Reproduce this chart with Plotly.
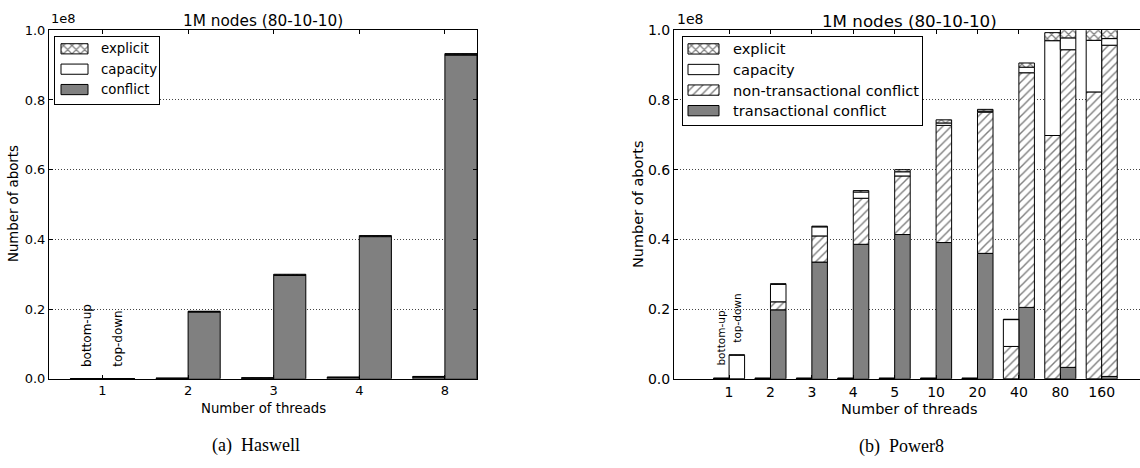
import plotly.graph_objects as go

SCALE = 1e8

# ---------------- Haswell (left) ----------------
hw_threads = ["1", "2", "3", "4", "8"]
# values in units of 1e8 aborts
hw_bu_conflict = [0.0006, 0.0012, 0.002, 0.0035, 0.0055]
hw_bu_capacity = [0.0002, 0.0004, 0.0005, 0.0008, 0.0008]
hw_bu_explicit = [0.0002, 0.0004, 0.0005, 0.0007, 0.0007]
hw_td_conflict = [0.0006, 0.192, 0.297, 0.408, 0.929]
hw_td_capacity = [0.0002, 0.001, 0.001, 0.001, 0.001]
hw_td_explicit = [0.0002, 0.001, 0.002, 0.002, 0.003]

# ---------------- Power8 (right) ----------------
p8_threads = ["1", "2", "3", "4", "5", "10", "20", "40", "80", "160"]
p8_bu_tx = [0.001, 0.001, 0.001, 0.001, 0.001, 0.001, 0.001, 0.0, 0.0, 0.0]
p8_bu_ntx = [0.0, 0.0, 0.0, 0.0, 0.0, 0.0, 0.0, 0.093, 0.698, 0.823]
p8_bu_cap = [0.0005, 0.0005, 0.0005, 0.0005, 0.0005, 0.0005, 0.0005, 0.077, 0.272, 0.148]
p8_bu_exp = [0.0005, 0.0005, 0.0005, 0.0005, 0.0005, 0.0005, 0.0005, 0.001, 0.023, 0.035]
p8_td_tx = [0.0, 0.198, 0.335, 0.386, 0.414, 0.391, 0.360, 0.205, 0.033, 0.007]
p8_td_ntx = [0.0, 0.023, 0.075, 0.132, 0.168, 0.336, 0.405, 0.673, 0.911, 0.950]
p8_td_cap = [0.068, 0.050, 0.026, 0.018, 0.012, 0.007, 0.003, 0.016, 0.034, 0.019]
p8_td_exp = [0.001, 0.002, 0.002, 0.004, 0.006, 0.009, 0.005, 0.012, 0.025, 0.030]

y_ticks = [0.0, 0.2, 0.4, 0.6, 0.8, 1.0]
y_tick_labels = ["0.0", "0.2", "0.4", "0.6", "0.8", "1.0"]

hw_legend = ["explicit", "capacity", "conflict"]
p8_legend = ["explicit", "capacity", "non-transactional conflict", "transactional conflict"]

BAR_W = 0.375
GRAY = "#808080"
FONT = "DejaVu Sans"
W, H = 1140, 468

STYLE = {
    "conflict": dict(color=GRAY, pattern=None),
    "transactional conflict": dict(color=GRAY, pattern=None),
    "capacity": dict(color="white", pattern=None),
    "non-transactional conflict": dict(color="white", pattern="/"),
    "explicit": dict(color="white", pattern="x"),
}


def marker_for(name):
    st = STYLE[name]
    m = dict(color=st["color"], line=dict(color="black", width=1))
    if st["pattern"]:
        m["pattern"] = dict(shape=st["pattern"], fgcolor="black",
                            bgcolor="white", size=6,
                            solidity=0.24 if st["pattern"] == "/" else 0.36)
    return m


fig = go.Figure()


def add_stack(layers_bu, layers_td, names, n, xa, ya):
    idx = list(range(n))
    base_bu = [0.0] * n
    base_td = [0.0] * n
    for name, vbu, vtd in zip(names, layers_bu, layers_td):
        for vals, base, off in ((vbu, base_bu, -BAR_W / 2), (vtd, base_td, BAR_W / 2)):
            fig.add_trace(go.Bar(
                x=[i + off for i in idx],
                y=[v * SCALE for v in vals],
                base=[b * SCALE for b in base],
                width=BAR_W,
                marker=marker_for(name),
                name=name,
                showlegend=False,
                xaxis=xa, yaxis=ya,
                hoverinfo="skip",
            ))
            for i in idx:
                base[i] += vals[i]
    return base_bu, base_td


hw_tot_bu, hw_tot_td = add_stack(
    [hw_bu_conflict, hw_bu_capacity, hw_bu_explicit],
    [hw_td_conflict, hw_td_capacity, hw_td_explicit],
    ["conflict", "capacity", "explicit"], len(hw_threads), "x", "y")

p8_tot_bu, p8_tot_td = add_stack(
    [p8_bu_tx, p8_bu_ntx, p8_bu_cap, p8_bu_exp],
    [p8_td_tx, p8_td_ntx, p8_td_cap, p8_td_exp],
    ["transactional conflict", "non-transactional conflict", "capacity", "explicit"],
    len(p8_threads), "x2", "y2")


# legend boxes drawn as small overlay subplots (wide key rectangles like the original)
def add_legend_keys(names, xa, ya, key_x0, key_x1):
    for k, name in enumerate(names):
        fig.add_trace(go.Bar(
            y=[k], x=[key_x1 - key_x0], base=[key_x0], orientation="h", width=0.5,
            marker=marker_for(name), showlegend=False, hoverinfo="skip",
            xaxis=xa, yaxis=ya,
        ))


# left legend frame 55..159 x 30..99 px ; right legend frame 683..922 x 30..121 px
LEG_L = dict(x0=55, x1=159, y0=30, y1=99, key0=6, key1=33, text=44, size=13.3)
LEG_R = dict(x0=683, x1=922, y0=30, y1=121, key0=5, key1=36, text=48, size=14.6)

add_legend_keys(hw_legend, "x3", "y3", LEG_L["key0"] / (LEG_L["x1"] - LEG_L["x0"]),
                LEG_L["key1"] / (LEG_L["x1"] - LEG_L["x0"]))
add_legend_keys(p8_legend, "x4", "y4", LEG_R["key0"] / (LEG_R["x1"] - LEG_R["x0"]),
                LEG_R["key1"] / (LEG_R["x1"] - LEG_R["x0"]))

y_dom = [1 - 384 / H, 1 - 23 / H]


def yaxis(anchor, size, mirror):
    return dict(
        domain=y_dom, anchor=anchor, range=[0, SCALE],
        tickvals=[v * SCALE for v in y_ticks], ticktext=y_tick_labels,
        ticks="inside", ticklen=4, tickcolor="black",
        showline=True, linecolor="black", linewidth=1, mirror=mirror,
        showgrid=True, gridcolor="#444444", griddash="1px,2px", gridwidth=1,
        zeroline=False,
        tickfont=dict(family=FONT, size=size, color="black"),
    )


def xaxis(domain, rng, n, labels, anchor, size):
    return dict(
        domain=domain, anchor=anchor, range=rng,
        tickvals=list(range(n)), ticktext=labels,
        ticks="inside", ticklen=4, tickcolor="black",
        showline=True, linecolor="black", linewidth=1, mirror="ticks",
        showgrid=False, zeroline=False,
        tickfont=dict(family=FONT, size=size, color="black"),
    )


def leg_axes(L, n):
    xd = [L["x0"] / W, L["x1"] / W]
    yd = [1 - L["y1"] / H, 1 - L["y0"] / H]
    frame = dict(showline=True, linecolor="black", linewidth=1, mirror=True,
                 showgrid=False, zeroline=False, showticklabels=False, ticks="",
                 fixedrange=True)
    pad_top = 0.08
    pad_bot = 0.19
    xa = dict(domain=xd, range=[0, 1], **frame)
    ya = dict(domain=yd, range=[n - 0.5 + pad_bot, -0.5 - pad_top], **frame)
    return xa, ya


xa3, ya3 = leg_axes(LEG_L, len(hw_legend))
xa4, ya4 = leg_axes(LEG_R, len(p8_legend))
xa3["anchor"] = "y3"; ya3["anchor"] = "x3"
xa4["anchor"] = "y4"; ya4["anchor"] = "x4"

fig.update_layout(
    width=W, height=H, autosize=False,
    margin=dict(l=0, r=0, t=0, b=0),
    paper_bgcolor="white", plot_bgcolor="white",
    barmode="overlay", showlegend=False,
    xaxis=xaxis([49 / W, 477 / W], [-0.625, 4.375], len(hw_threads), hw_threads, "y", 13),
    yaxis=yaxis("x", 13, "ticks"),
    xaxis2=xaxis([674 / W, 1.0], [-1.33, 9.925], len(p8_threads), p8_threads, "y2", 14),
    yaxis2=yaxis("x2", 14, False),
    xaxis3=xa3, yaxis3=ya3, xaxis4=xa4, yaxis4=ya4,
)

ann = []


def txt(text, x, y, size, family=FONT, xanchor="center", yanchor="middle", angle=0, **kw):
    d = dict(text=text, x=x, y=y, showarrow=False, xanchor=xanchor, yanchor=yanchor,
             textangle=angle, font=dict(family=family, size=size, color="black"))
    d.update(kw)
    if "xref" not in d:
        d["xref"] = "paper"; d["yref"] = "paper"
        d["x"] = x / W; d["y"] = 1 - y / H
    ann.append(d)


# titles
txt("1M nodes (80-10-10)", 263, 13, 15.3)
txt("1M nodes (80-10-10)", 909, 13.5, 16.7)
# offset text
txt("1e8", 49, 21, 13, xanchor="left", yanchor="bottom")
txt("1e8", 675, 22, 14, xanchor="left", yanchor="bottom")
# axis titles
txt("Number of threads", 263, 415, 13.3)
txt("Number of threads", 909, 415, 14.5)
txt("Number of aborts", 13, 203, 13.3, angle=-90)
txt("Number of aborts", 638, 203, 14.5, angle=-90)
# captions
txt("(a)\u00a0\u00a0Haswell", 256, 453, 18, family="Liberation Serif")
txt("(b)\u00a0\u00a0Power8", 901, 454, 18, family="Liberation Serif")

# legend labels
for k, name in enumerate(hw_legend):
    txt(name, LEG_L["text"] / (LEG_L["x1"] - LEG_L["x0"]), k, LEG_L["size"],
        xanchor="left", xref="x3", yref="y3")
for k, name in enumerate(p8_legend):
    txt(name, LEG_R["text"] / (LEG_R["x1"] - LEG_R["x0"]), k, LEG_R["size"],
        xanchor="left", xref="x4", yref="y4")

# implementation labels above the first group
txt("bottom-up", -BAR_W / 2, (hw_tot_bu[0] + 0.05) * SCALE, 12, yanchor="bottom", angle=-90,
    xref="x", yref="y", yshift=-8)
txt("top-down", BAR_W / 2, (hw_tot_td[0] + 0.05) * SCALE, 12, yanchor="bottom", angle=-90,
    xref="x", yref="y", yshift=-8)
txt("bottom-up", -BAR_W / 2, (p8_tot_bu[0] + 0.05) * SCALE, 10.5, yanchor="bottom", angle=-90,
    xref="x2", yref="y2", yshift=-7)
txt("top-down", BAR_W / 2, (p8_tot_td[0] + 0.05) * SCALE, 10.5, yanchor="bottom", angle=-90,
    xref="x2", yref="y2", yshift=-7)

fig.update_layout(annotations=ann)

fig.write_html("out.html")
